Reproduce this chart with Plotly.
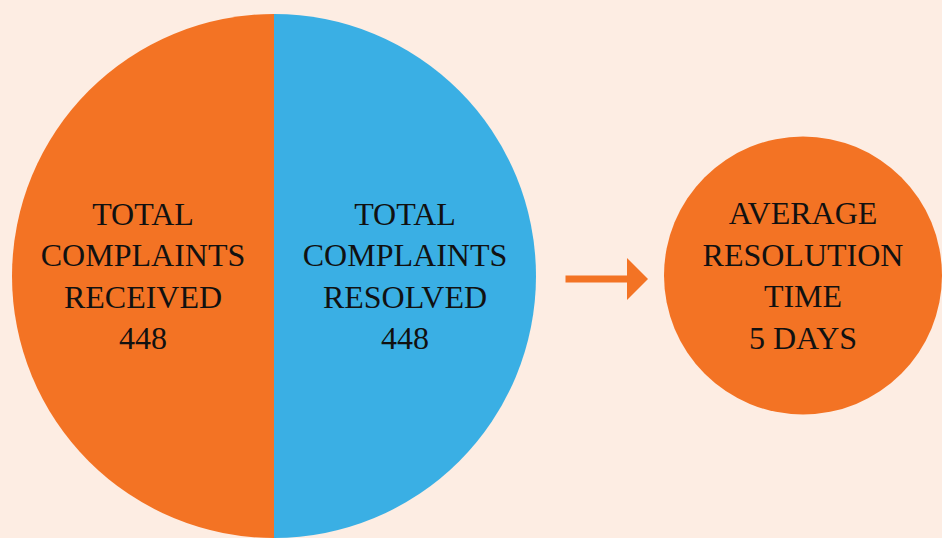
import plotly.graph_objects as go

# ---- data ----
categories = ["TOTAL<br>COMPLAINTS<br>RECEIVED", "TOTAL<br>COMPLAINTS<br>RESOLVED"]
complaints = [448, 448]
avg_label = ["AVERAGE<br>RESOLUTION<br>TIME"]
avg_days = [5]

ORANGE = "#F37324"
BLUE = "#3AAFE4"
BG = "#FDEDE3"
W, H = 942, 538

font = dict(family="Liberation Serif, Times New Roman, serif", size=32, color="#111111")

fig = go.Figure()

fig.add_trace(go.Pie(
    labels=categories,
    values=complaints,
    sort=False,
    direction="clockwise",
    rotation=180,
    marker=dict(colors=[ORANGE, BLUE], line=dict(width=0)),
    texttemplate="%{label}<br>%{value}",
    textposition="inside",
    insidetextorientation="horizontal",
    insidetextfont=font,
    domain=dict(x=[8 / W, 540 / W], y=[0, 1 - 14 / H]),
    hoverinfo="skip",
    showlegend=False,
))

fig.add_trace(go.Pie(
    labels=avg_label,
    values=avg_days,
    marker=dict(colors=[ORANGE], line=dict(width=0)),
    texttemplate="%{label}<br>%{value} DAYS",
    textposition="inside",
    insidetextorientation="horizontal",
    insidetextfont=font,
    domain=dict(x=[664 / W, 1], y=[1 - 419 / H, 1 - 132 / H]),
    hoverinfo="skip",
    showlegend=False,
))

fig.add_annotation(
    x=648 / W, y=1 - 279 / H, xref="paper", yref="paper",
    ax=-84, ay=0, text="", showarrow=True,
    arrowhead=1, arrowsize=1, arrowwidth=7, arrowcolor=ORANGE,
)

fig.update_layout(
    width=W, height=H,
    margin=dict(l=0, r=0, t=0, b=0),
    paper_bgcolor=BG, plot_bgcolor=BG,
)

fig.write_html(
    "out.html",
    config={"displayModeBar": False},
    post_script="document.body.style.margin='0';document.body.style.overflow='hidden';"
                "document.body.style.background='" + BG + "';",
)
